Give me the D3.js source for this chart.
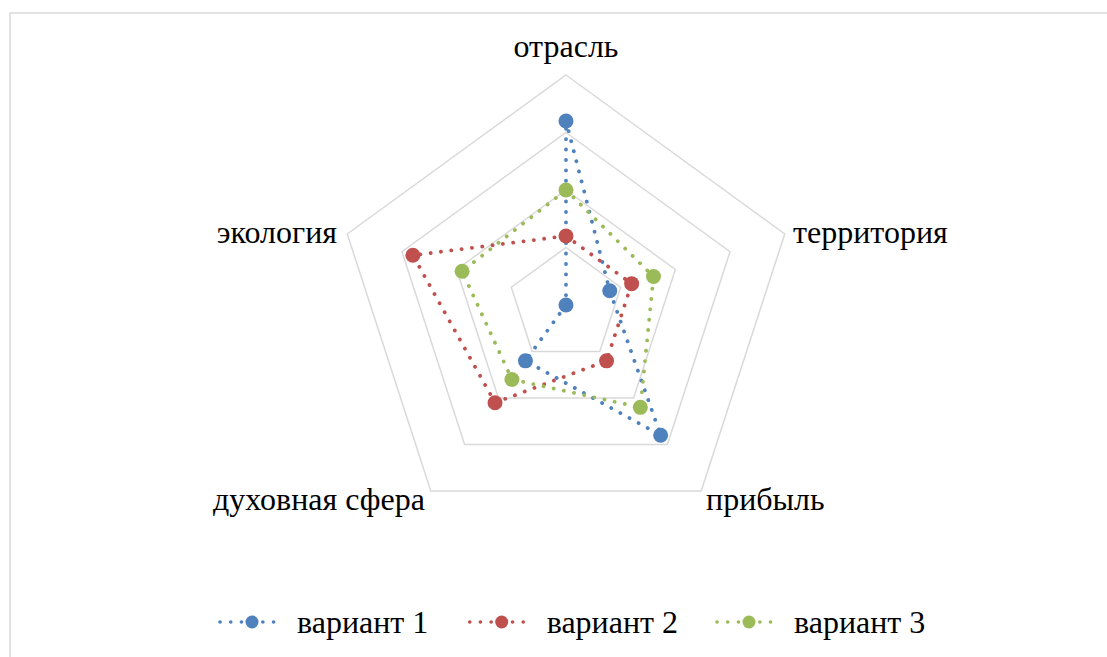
<!DOCTYPE html>
<html><head><meta charset="utf-8">
<script src="https://cdn.jsdelivr.net/npm/d3@7"></script>
<style>body{margin:0;background:#fff;}</style>
</head><body>
<svg id="c" width="1107" height="657"></svg>
<script>
const categories = ["отрасль","территория","прибыль","духовная сфера","экология"];
const seriesNames = ["вариант 1","вариант 2","вариант 3"];
const variant1 = [3.2, 0.8, 2.8, 1.2, 0.0];
const variant2 = [1.2, 1.2, 1.2, 2.1, 2.8];
const variant3 = [2.0, 1.6, 2.2, 1.6, 1.9];
const ringTicks = [1, 2, 3, 4];
const colors = ["#4F81BD","#C0504D","#9BBB59"];
const seriesValues = [variant1, variant2, variant3];

const svg = d3.select("#c");
const cx = 566, cy = 305, R = 230;
const FS = 32;
const FF = "Liberation Serif";
svg.append("rect").attr("x",10).attr("y",13).attr("width",1120).attr("height",680)
  .attr("fill","none").attr("stroke","#d9d9d9").attr("stroke-width",1.5);

const r = d3.scaleLinear().domain([0, 4]).range([0, R]);
const a = c => categories.indexOf(c) * 2*Math.PI/categories.length;
const pt = (c, v) => [cx + r(v)*Math.sin(a(c)), cy - r(v)*Math.cos(a(c))];
const g = svg.append("g");
const line = d3.line().curve(d3.curveLinearClosed);

ringTicks.forEach(t => {
  g.append("path").attr("d", line(categories.map(c => pt(c, t))))
    .attr("fill","none").attr("stroke","#d9d9d9").attr("stroke-width",1.5);
});

seriesValues.forEach((vals, i) => {
  const pts = categories.map((c, j) => pt(c, vals[j]));
  g.append("path").attr("d", line(pts)).attr("fill","none")
    .attr("stroke", colors[i]).attr("stroke-width",3.8)
    .attr("stroke-linecap","round").attr("stroke-dasharray","0.1 10.3");
});
seriesValues.forEach((vals, i) => {
  const pts = categories.map((c, j) => pt(c, vals[j]));
  g.selectAll(null).data(pts).enter().append("circle")
    .attr("cx", d => d[0]).attr("cy", d => d[1]).attr("r", 7.5).attr("fill", colors[i]);
});

const labelPos = [
  {x: 566, y: 57, anchor: "middle"},
  {x: 793, y: 243, anchor: "start"},
  {x: 706, y: 510, anchor: "start"},
  {x: 425, y: 510, anchor: "end"},
  {x: 337, y: 243, anchor: "end"}
];
categories.forEach((c, i) => {
  svg.append("text").attr("x", labelPos[i].x).attr("y", labelPos[i].y)
    .attr("text-anchor", labelPos[i].anchor)
    .attr("font-family", FF).attr("font-size", FS)
    .attr("fill","#000").text(c);
});

const legX = [252, 501.7, 749];
seriesNames.forEach((n, i) => {
  const lg = svg.append("g").attr("transform", `translate(${legX[i]},622)`);
  lg.append("line").attr("x1",-32).attr("x2",32).attr("y1",0).attr("y2",0)
    .attr("stroke", colors[i]).attr("stroke-width",3.6).attr("stroke-linecap","round")
    .attr("stroke-dasharray","0.1 10.6");
  lg.append("circle").attr("cx",0).attr("cy",0).attr("r",6.5).attr("fill",colors[i]);
  lg.append("text").attr("x",45).attr("y",11)
    .attr("font-family", FF).attr("font-size", FS)
    .attr("fill","#000").text(n);
});
</script>
</body></html>
